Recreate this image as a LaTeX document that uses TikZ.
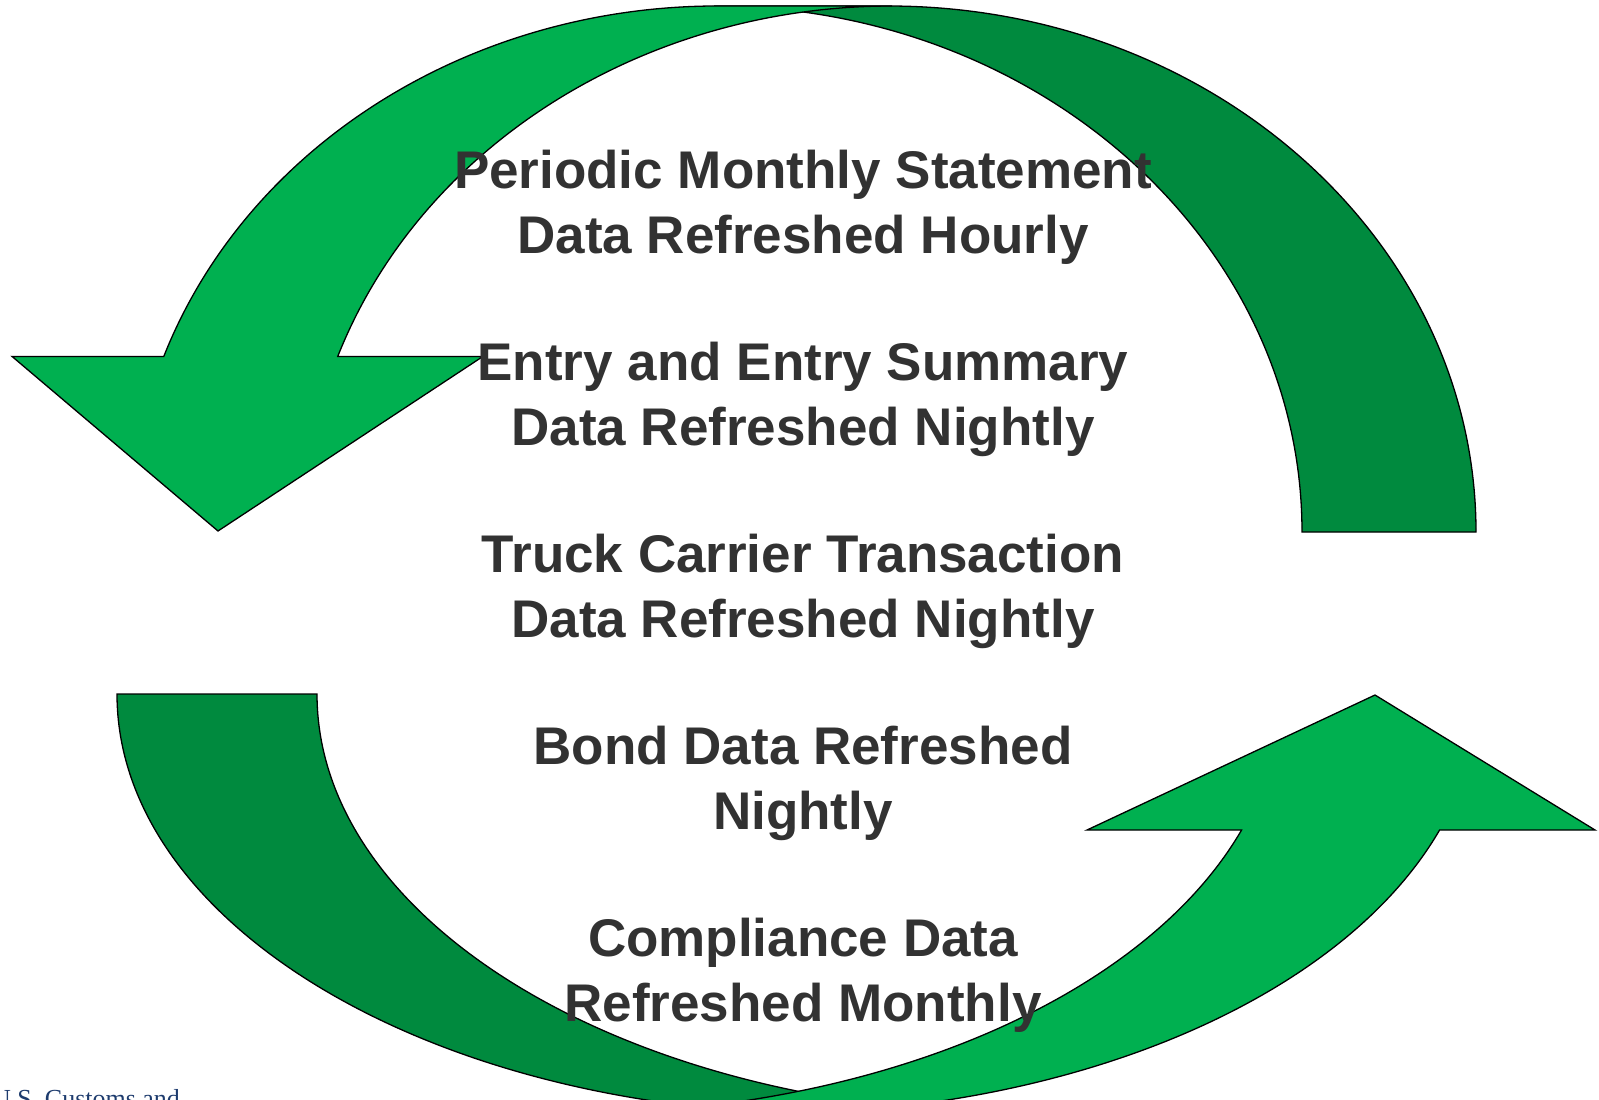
\documentclass[tikz,border=0pt]{standalone}
\usepackage{fontspec}
\setmainfont{Liberation Sans}
\newfontfamily\serifcbp{Liberation Serif}
\definecolor{lgreen}{RGB}{0,176,80}
\definecolor{dgreen}{RGB}{0,138,62}
\definecolor{txtgray}{RGB}{50,50,50}
\definecolor{cbpblue}{RGB}{30,60,110}
\begin{document}
\begin{tikzpicture}[x=1pt,y=-1pt,
  band/.style={draw=black, line width=1.3pt, line join=miter},
  lbl/.style={anchor=base, inner sep=0pt, text=txtgray, font=\fontsize{53}{64}\selectfont\bfseries},
]
\clip (0,0) rectangle (1599,1100);
\fill[white] (0,0) rectangle (1599,1100);

% upper right band (dark green)
\path[band, fill=dgreen] (1476,532)
  arc[start angle=360, end angle=270, x radius=588, y radius=526]
  -- (714,6)
  arc[start angle=270, end angle=360, x radius=588, y radius=526]
  -- cycle;

% upper left arrow (light green)
\path[band, fill=lgreen] (163.8,356.4)
  arc[start angle=199.5, end angle=270, x radius=588, y radius=526]
  -- (892,6)
  arc[start angle=270, end angle=199.5, x radius=588, y radius=526]
  -- (483,356.4) -- (218,531) -- (12,356.4) -- cycle;

% lower left band (dark green)
\path[band, fill=dgreen] (117,694)
  arc[start angle=180, end angle=90, x radius=713, y radius=420]
  -- (1030,1114)
  arc[start angle=90, end angle=180, x radius=713, y radius=420]
  -- cycle;

% lower right arrow (light green)
\path[band, fill=lgreen] (1439.6,830)
  arc[start angle=18.9, end angle=90, x radius=713, y radius=420]
  -- (567,1114)
  arc[start angle=90, end angle=18.9, x radius=713, y radius=420]
  -- (1087,830) -- (1375,695) -- (1595,830) -- cycle;

% texts
\node[lbl] (t1a) at (803,188) {Periodic Monthly Statement};
\node[lbl] (t1b) at (803,253) {Data Refreshed Hourly};
\node[lbl] (t2a) at (803,380) {Entry and Entry Summary};
\node[lbl] (t2b) at (803,445) {Data Refreshed Nightly};
\node[lbl] (t3a) at (803,572) {Truck Carrier Transaction};
\node[lbl] (t3b) at (803,637) {Data Refreshed Nightly};
\node[lbl] (t4a) at (803,764) {Bond Data Refreshed};
\node[lbl] (t4b) at (803,829) {Nightly};
\node[lbl] (t5a) at (803,956) {Compliance Data};
\node[lbl] (t5b) at (803,1021) {Refreshed Monthly};

\node[anchor=base west, inner sep=0pt, text=cbpblue, font=\serifcbp\fontsize{26}{30}\selectfont] (cbp) at (-8,1107) {U.S. Customs and};
\end{tikzpicture}
\end{document}
